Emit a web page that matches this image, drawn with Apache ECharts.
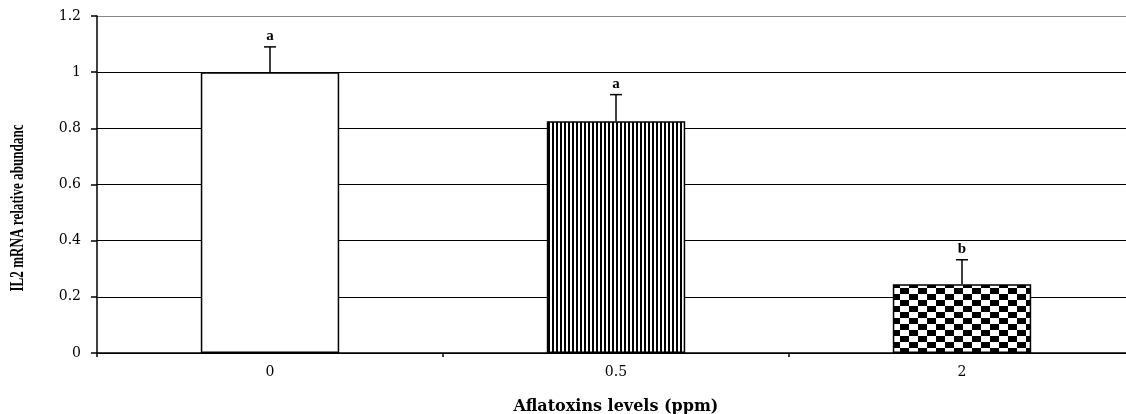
<!DOCTYPE html>
<html><head><meta charset="utf-8">
<script src="https://cdn.jsdelivr.net/npm/echarts@6/dist/echarts.min.js"></script>
<style>html,body{margin:0;padding:0;background:#fff}#c{width:1126px;height:414px}</style>
</head><body><div id="c"></div>
<script>
const categories = ['0', '0.5', '2'];
const means = [1.0, 0.825, 0.245];
const errors = [0.09, 0.095, 0.087];
const letters = ['a', 'a', 'b'];
const yTicks = [0, 0.2, 0.4, 0.6, 0.8, 1, 1.2];
const yTitle = 'IL2 mRNA relative abundanc';
const xTitle = 'Aflatoxins levels (ppm)';

function stripe() {
  const c = document.createElement('canvas'); c.width = 4; c.height = 4;
  const g = c.getContext('2d'); g.fillStyle = '#fff'; g.fillRect(0,0,4,4);
  g.fillStyle = '#000'; g.fillRect(0,0,2,4); return c;
}
function checker() {
  const c = document.createElement('canvas'); c.width = 18; c.height = 12;
  const g = c.getContext('2d'); g.fillStyle = '#fff'; g.fillRect(0,0,18,12);
  g.fillStyle = '#000'; g.fillRect(0,0,9,6); g.fillRect(9,6,9,6); return c;
}
const fills = ['#ffffff', {image: stripe(), repeat: 'repeat'}, {image: checker(), repeat: 'repeat'}];

const yFont = 'bold 18px "Liberation Serif"';
const mc = document.createElement('canvas').getContext('2d');
mc.font = yFont;
const yScale = 167 / mc.measureText(yTitle).width;

const chart = echarts.init(document.getElementById('c'), null, {renderer: 'canvas'});
const serif = 'DejaVu Serif';
chart.setOption({
  backgroundColor: '#fff',
  animation: false,
  grid: {left: 97, right: -9, top: 16, bottom: 61, outerBoundsMode: 'none', containLabel: false},
  graphic: [{
    type: 'text', x: 18, y: 208, rotation: Math.PI / 2, scaleX: yScale,
    style: {text: yTitle, fill: '#000', font: yFont, align: 'center', verticalAlign: 'middle'}
  }],
  xAxis: {
    type: 'category', data: categories,
    name: xTitle, nameLocation: 'middle', nameGap: 46,
    nameTextStyle: {fontFamily: serif, fontWeight: 'bold', fontSize: 16, color: '#000'},
    axisLine: {lineStyle: {color: '#000', width: 1.5}},
    axisTick: {show: true, length: 4, lineStyle: {color: '#000', width: 1.5}},
    axisLabel: {margin: 12, fontFamily: serif, fontSize: 14, color: '#000'}
  },
  yAxis: {
    type: 'value', min: 0, max: 1.2, interval: 0.2,
    axisLine: {show: true, lineStyle: {color: '#000', width: 1.5}},
    axisTick: {show: true, length: 6, lineStyle: {color: '#000', width: 1.5}},
    axisLabel: {margin: 16, fontFamily: serif, fontSize: 14, color: '#000',
      formatter: v => { const t = yTicks.find(x => Math.abs(x - v) < 1e-9); return String(t === undefined ? v : t); }},
    splitLine: {show: true, lineStyle: {color: ['#000','#000','#000','#000','#000','#000','#888'], width: 1.2}}
  },
  series: [{
    type: 'bar', barWidth: '40%',
    data: means.map((v, i) => ({value: v, itemStyle: {color: fills[i]}})),
    itemStyle: {borderColor: '#000', borderWidth: 1.5},
    z: 2
  }, {
    type: 'custom', z: 3,
    data: means.map((v, i) => [i, v, errors[i]]),
    renderItem: (params, api) => {
      const x = api.value(0);
      const base = api.coord([x, api.value(1)]);
      const top = api.coord([x, api.value(1) + api.value(2)]);
      const st = {stroke: '#000', lineWidth: 1.5};
      return {type: 'group', children: [
        {type: 'line', shape: {x1: base[0], y1: base[1], x2: top[0], y2: top[1]}, style: st},
        {type: 'line', shape: {x1: top[0] - 6, y1: top[1], x2: top[0] + 6, y2: top[1]}, style: st},
        {type: 'text', x: top[0], y: top[1] - 3, style: {text: letters[params.dataIndex], fill: '#000',
          font: 'bold 15px "Liberation Serif"', align: 'center', verticalAlign: 'bottom'}}
      ]};
    }
  }]
});
</script></body></html>
